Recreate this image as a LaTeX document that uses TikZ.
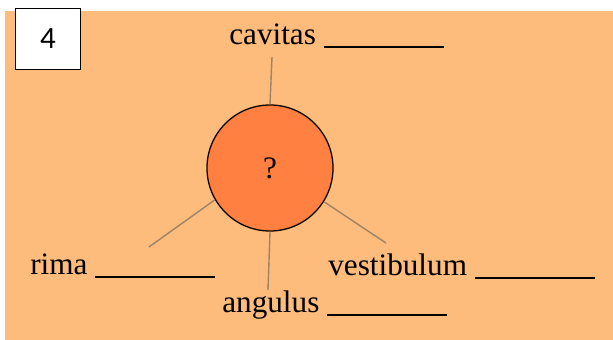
\documentclass[tikz,border=0pt]{standalone}
\usepackage{fontspec}
\setmainfont{Liberation Serif}
\newfontfamily\numfont{Carlito}
\usepackage{tikz}

\definecolor{sheet}{HTML}{FDBB7C}
\definecolor{ball}{HTML}{FF8040}
\definecolor{stick}{HTML}{9E8466}
\newcommand{\blank}{\rule[-2pt]{3cm}{1.1pt}}

\begin{document}
\begin{tikzpicture}[x=0.025cm, y=-0.025cm, font=\fontsize{22.2}{25}\selectfont,
		word/.style={anchor=base west, inner sep=0pt},
		leg/.style={stick, line width=1pt}]
		\useasboundingbox (0,0) rectangle (613,340);
		% orange sheet and the number box
		\fill[sheet] (5,11) rectangle (613,340);
		\node[draw, line width=1.1pt, fill=white, minimum width=1.62cm, minimum height=1.52cm,
			font=\numfont\fontsize{22}{24}\selectfont] (num) at (48,39) {4};
		% the ball in the middle
		\node[circle, draw, line width=0.9pt, fill=ball, minimum size=3.15cm] (q) at (270,168) {?};
		% the four words
		\node[word] (cav) at (229,45) {cavitas \blank};
		\node[word] (rim) at (30,275) {rima \blank};
		\node[word] (ves) at (328,276) {vestibulum \blank};
		\node[word] (ang) at (222,313) {angulus \blank};
		% free ends of the sticks
		\coordinate (cavEnd) at (272,57);
		\coordinate (rimEnd) at (149,247);
		\coordinate (vesEnd) at (386,243);
		\coordinate (angEnd) at (268,290);
		\draw[leg] (q.north) -- (cavEnd);
		\draw[leg] (q.210) -- (rimEnd);
		\draw[leg] (q.-32) -- (vesEnd);
		\draw[leg] (q.south) -- (angEnd);
	\end{tikzpicture}
\end{document}
